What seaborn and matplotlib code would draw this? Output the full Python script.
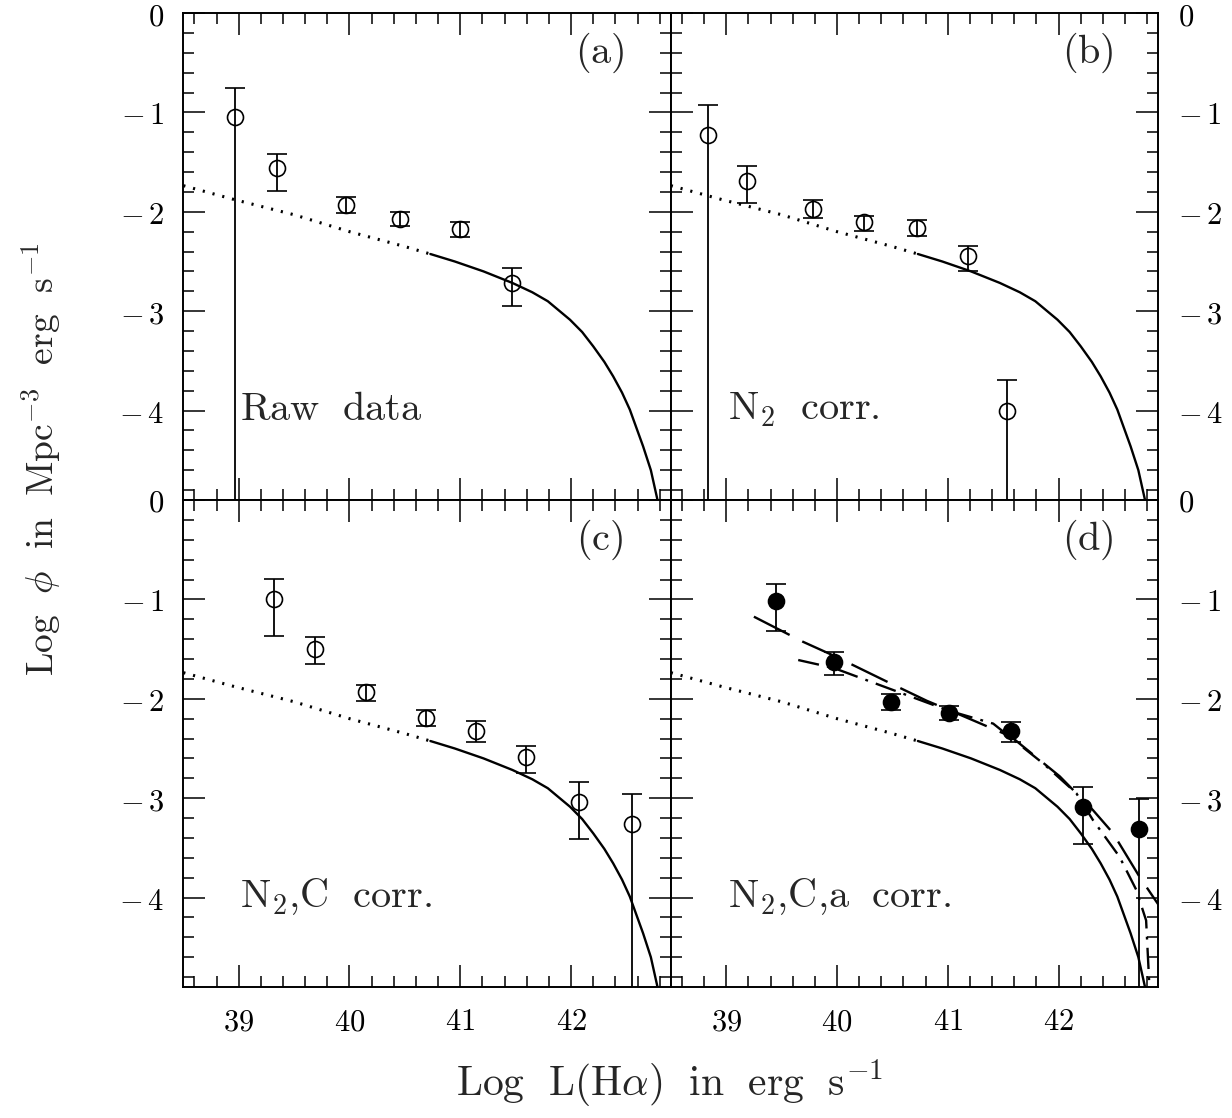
import numpy as np
import pandas as pd
import matplotlib
matplotlib.use("Agg")
import matplotlib.pyplot as plt
from matplotlib.ticker import MultipleLocator, FixedLocator, FuncFormatter
import seaborn as sns

# ---------------- data ----------------
# common model curve (dotted extrapolation + solid fit)
model_dot_x = [38.5, 38.97, 39.5, 40.0, 40.5, 40.73]
model_dot_y = [-1.737, -1.88, -2.03, -2.20, -2.35, -2.425]
model_sol_x = [40.73, 40.95, 41.21, 41.47, 41.65, 41.79, 41.99, 42.10, 42.20, 42.30, 42.38, 42.46, 42.53, 42.65, 42.72, 42.78]
model_sol_y = [-2.425, -2.50, -2.60, -2.716, -2.81, -2.90, -3.086, -3.21, -3.354, -3.51, -3.656, -3.82, -3.99, -4.36, -4.60, -4.90]

# panel (d) extra fits
dash_x = [39.25, 39.69, 39.97, 40.47, 40.81, 41.01, 41.57, 42.01, 42.31, 42.49, 42.73, 42.90]
dash_y = [-1.174, -1.425, -1.566, -1.838, -2.02, -2.113, -2.38, -2.78, -3.12, -3.35, -3.79, -4.07]
dashdot_x = [39.65, 39.97, 40.49, 41.01, 41.41, 41.86, 42.16, 42.31, 42.55, 42.70, 42.79, 42.82]
dashdot_y = [-1.61, -1.69, -1.905, -2.12, -2.25, -2.65, -2.95, -3.22, -3.59, -3.92, -4.23, -4.90]

# panel (a) raw data
a_x = [38.97, 39.35, 39.97, 40.46, 41.00, 41.47]
a_y = [-1.05, -1.56, -1.93, -2.07, -2.17, -2.72]
a_hi = [-0.755, -1.415, -1.855, -2.006, -2.10, -2.565]
a_lo = [-6.0, -1.788, -2.016, -2.147, -2.257, -2.945]

# panel (b) N2 corrected
b_x = [38.84, 39.19, 39.78, 40.24, 40.72, 41.18, 41.53]
b_y = [-1.224, -1.687, -1.969, -2.107, -2.16, -2.44, -4.00]
b_hi = [-0.93, -1.536, -1.885, -2.04, -2.087, -2.341, -3.696]
b_lo = [-6.0, -1.912, -2.062, -2.19, -2.247, -2.60, -6.0]

# panel (c) N2,C corrected
c_x = [39.32, 39.69, 40.15, 40.69, 41.14, 41.59, 42.07, 42.55]
c_y = [-0.996, -1.499, -1.935, -2.19, -2.32, -2.59, -3.035, -3.26]
c_hi = [-0.798, -1.378, -1.86, -2.116, -2.223, -2.48, -2.84, -2.958]
c_lo = [-1.368, -1.65, -2.02, -2.27, -2.438, -2.75, -3.41, -6.0]

# panel (d) N2,C,a corrected
d_x = [39.45, 39.97, 40.49, 41.01, 41.57, 42.22, 42.73]
d_y = [-1.016, -1.63, -2.03, -2.14, -2.32, -3.085, -3.31]
d_hi = [-0.845, -1.529, -1.955, -2.07, -2.237, -2.89, -3.01]
d_lo = [-1.315, -1.76, -2.11, -2.217, -2.438, -3.46, -6.0]

panel_tags = ["(a)", "(b)", "(c)", "(d)"]
panel_notes = [r"$\mathrm{Raw\ \ data}$", r"$\mathrm{N_2\ \ corr.}$",
               r"$\mathrm{N_2{,}C\ \ corr.}$", r"$\mathrm{N_2{,}C{,}a\ \ corr.}$"]
x_ticks = [39, 40, 41, 42]
y_ticks = [0, -1, -2, -3, -4]
xlabel = r"$\mathrm{Log\ \ L(H}\alpha\mathrm{)\ \ in\ \ erg\ \ s^{-1}}$"
ylabel = r"$\mathrm{Log}\ \ \phi\ \ \mathrm{in\ \ Mpc^{-3}\ \ erg\ \ s^{-1}}$"

# ---------------- style ----------------
sns.set_style("ticks")
plt.rcParams["font.family"] = ["DejaVu Serif"]
plt.rcParams["mathtext.fontset"] = "cm"
plt.rcParams["axes.linewidth"] = 1.4

fig = plt.figure(figsize=(12.32, 11.18), dpi=100)
W = 1232.0
H = 1118.0
left0 = 183.3 / W
pw = 487.5 / W
ph = 487.0 / H
bot_top = 1 - 500.0 / H
bot_bot = 1 - 987.0 / H
axes = [
    fig.add_axes([left0, bot_top, pw, ph]),
    fig.add_axes([left0 + pw, bot_top, pw, ph]),
    fig.add_axes([left0, bot_bot, pw, ph]),
    fig.add_axes([left0 + pw, bot_bot, pw, ph]),
]

datasets = [
    (a_x, a_y, a_hi, a_lo, False),
    (b_x, b_y, b_hi, b_lo, False),
    (c_x, c_y, c_hi, c_lo, False),
    (d_x, d_y, d_hi, d_lo, True),
]

dot_df = pd.DataFrame({"x": model_dot_x, "y": model_dot_y})
sol_df = pd.DataFrame({"x": model_sol_x, "y": model_sol_y})


def ytick_fmt(v, pos):
    iv = int(round(v))
    if iv == 0:
        return r"$0$"
    return r"$-\,%d$" % (-iv)


for i, ax in enumerate(axes):
    ax.set_facecolor("white")
    ax.set_xlim(38.5, 42.9)
    ax.set_ylim(-4.9, 0.0)
    # model curves
    sns.lineplot(data=dot_df, x="x", y="y", ax=ax, color="black", lw=2.2,
                 linestyle=(0, (0.7, 2.6)), sort=False, estimator=None)
    sns.lineplot(data=sol_df, x="x", y="y", ax=ax, color="black", lw=1.7,
                 sort=False, estimator=None)
    if i == 3:
        sns.lineplot(x=dash_x, y=dash_y, ax=ax, color="black", lw=1.7,
                     linestyle=(0, (17, 6)), sort=False, estimator=None)
        sns.lineplot(x=dashdot_x, y=dashdot_y, ax=ax, color="black", lw=1.7,
                     linestyle=(0, (9, 3.5, 1.2, 3.5)), sort=False, estimator=None)
    xs, ys, hi, lo, filled = datasets[i]
    xs = np.array(xs)
    ys = np.array(ys)
    hi = np.array(hi)
    lo = np.array(lo)
    yerr = [ys - lo, hi - ys]
    ax.errorbar(xs, ys, yerr=yerr, fmt="o", ms=11.5,
                mfc="black" if filled else "none", mec="black", mew=1.2,
                ecolor="black", elinewidth=1.3, capsize=7.5, capthick=1.3,
                zorder=5)
    # ticks
    ax.xaxis.set_major_locator(FixedLocator(x_ticks))
    ax.xaxis.set_minor_locator(MultipleLocator(0.2))
    ax.yaxis.set_major_locator(FixedLocator(y_ticks))
    ax.yaxis.set_minor_locator(MultipleLocator(0.2))
    ax.tick_params(which="both", direction="in", top=True, bottom=True,
                   left=True, right=True, width=1.1, colors="black")
    ax.tick_params(which="major", length=15.5, labelsize=22, pad=14)
    ax.tick_params(which="minor", length=7.7)
    ax.xaxis.set_major_formatter(FuncFormatter(lambda v, p: r"$%d$" % int(round(v))))
    ax.yaxis.set_major_formatter(FuncFormatter(ytick_fmt))
    ax.tick_params(labelbottom=(i >= 2), labeltop=False,
                   labelleft=(i % 2 == 0), labelright=(i % 2 == 1))
    ax.set_xlabel("")
    ax.set_ylabel("")
    for s in ax.spines.values():
        s.set_visible(True)
        s.set_color("black")
    ax.text(0.855, 0.918, r"$\mathrm{%s}$" % panel_tags[i], transform=ax.transAxes,
            ha="center", va="center", fontsize=29)
    ax.text(0.117, 0.165, panel_notes[i], transform=ax.transAxes, ha="left",
            va="baseline", fontsize=29)

fig.text(0.5438, 0.031, xlabel, ha="center", va="center", fontsize=30)
fig.text(0.044, 0.589, ylabel, ha="center", va="baseline", rotation=90,
         rotation_mode="anchor", fontsize=27)

fig.savefig("out.png", dpi=100, facecolor="white")
